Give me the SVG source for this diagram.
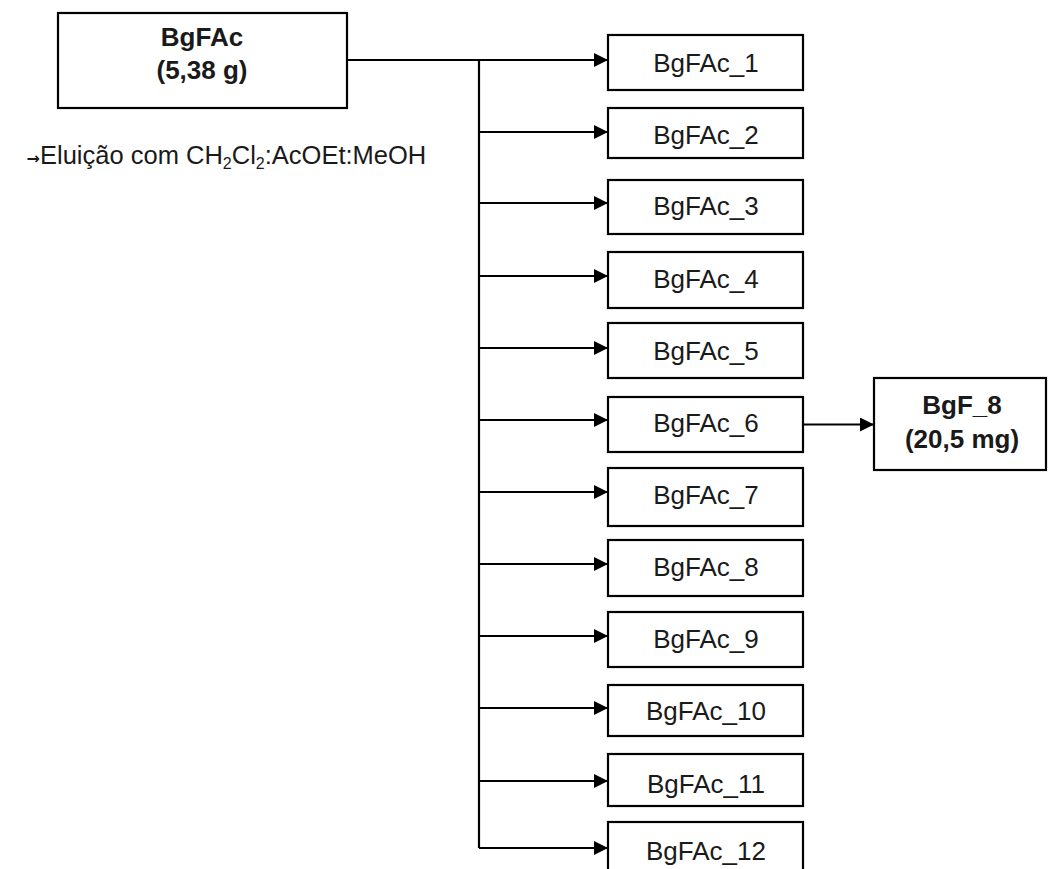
<svg xmlns="http://www.w3.org/2000/svg" width="1048" height="869" viewBox="0 0 1048 869">
<defs>
<style>
.box{fill:#fff;stroke:#000;stroke-width:2.2}
.lbl{font-family:"Liberation Sans",Arial,sans-serif;font-size:26px;fill:#1a1a1a;text-anchor:middle}
.b{font-weight:bold}
.ln{fill:none;stroke:#000;stroke-width:2.2}
.arr{marker-end:url(#ah)}
.note{font-family:"Liberation Sans",Arial,sans-serif;font-size:25.5px;fill:#1a1a1a}
.sym{font-family:"DejaVu Sans",sans-serif;font-size:16px;font-weight:bold}
</style>
<marker id="ah" markerUnits="userSpaceOnUse" markerWidth="15" markerHeight="15" refX="14" refY="7" orient="auto">
<path d="M0,0 L14,7 L0,14 z" fill="#000"/>
</marker>
</defs>
<rect width="1048" height="869" fill="#fff"/>
<g id="connectors">
<path class="ln" d="M347,60 H479 V848"/>
<path class="ln arr" d="M479,60 H608"/>
<path class="ln arr" d="M479,132 H608"/>
<path class="ln arr" d="M479,203 H608"/>
<path class="ln arr" d="M479,276 H608"/>
<path class="ln arr" d="M479,348 H608"/>
<path class="ln arr" d="M479,420 H608"/>
<path class="ln arr" d="M479,492 H608"/>
<path class="ln arr" d="M479,564 H608"/>
<path class="ln arr" d="M479,636 H608"/>
<path class="ln arr" d="M479,708 H608"/>
<path class="ln arr" d="M479,781 H608"/>
<path class="ln arr" d="M479,848 H608"/>
<path class="ln arr" d="M803,424.5 H874"/>
</g>
<g id="BgFAc">
<rect class="box" x="58" y="13" width="289" height="95"/>
<text class="lbl b" x="202" y="46">BgFAc</text>
<text class="lbl b" x="202" y="79">(5,38 g)</text>
</g>
<g id="note">
<text class="note" y="164"><tspan class="sym" x="40" text-anchor="end">→</tspan><tspan x="40">Eluição com CH</tspan><tspan font-size="16" dy="5">2</tspan><tspan dy="-5">Cl</tspan><tspan font-size="16" dy="5">2</tspan><tspan dy="-5">:AcOEt:MeOH</tspan></text>
</g>
<g id="BgFAc_1"><rect class="box" x="608" y="35" width="195" height="55"/><text class="lbl" x="706" y="72">BgFAc_1</text></g>
<g id="BgFAc_2"><rect class="box" x="608" y="108" width="195" height="50"/><text class="lbl" x="706" y="144">BgFAc_2</text></g>
<g id="BgFAc_3"><rect class="box" x="608" y="180" width="195" height="54"/><text class="lbl" x="706" y="215">BgFAc_3</text></g>
<g id="BgFAc_4"><rect class="box" x="608" y="252" width="195" height="56"/><text class="lbl" x="706" y="288">BgFAc_4</text></g>
<g id="BgFAc_5"><rect class="box" x="608" y="323" width="195" height="55"/><text class="lbl" x="706" y="360">BgFAc_5</text></g>
<g id="BgFAc_6"><rect class="box" x="608" y="397" width="195" height="55"/><text class="lbl" x="706" y="432">BgFAc_6</text></g>
<g id="BgFAc_7"><rect class="box" x="608" y="468" width="195" height="58"/><text class="lbl" x="706" y="504">BgFAc_7</text></g>
<g id="BgFAc_8"><rect class="box" x="608" y="540" width="195" height="56"/><text class="lbl" x="706" y="576">BgFAc_8</text></g>
<g id="BgFAc_9"><rect class="box" x="608" y="612" width="195" height="55"/><text class="lbl" x="706" y="648">BgFAc_9</text></g>
<g id="BgFAc_10"><rect class="box" x="608" y="685" width="195" height="51"/><text class="lbl" x="706" y="720">BgFAc_10</text></g>
<g id="BgFAc_11"><rect class="box" x="608" y="754" width="195" height="52"/><text class="lbl" x="706" y="793">BgFAc_11</text></g>
<g id="BgFAc_12"><rect class="box" x="608" y="822" width="195" height="56"/><text class="lbl" x="706" y="860">BgFAc_12</text></g>
<g id="BgF_8">
<rect class="box" x="874" y="378" width="172" height="92"/>
<text class="lbl b" x="962" y="414">BgF_8</text>
<text class="lbl b" x="962" y="448">(20,5 mg)</text>
</g>
</svg>
